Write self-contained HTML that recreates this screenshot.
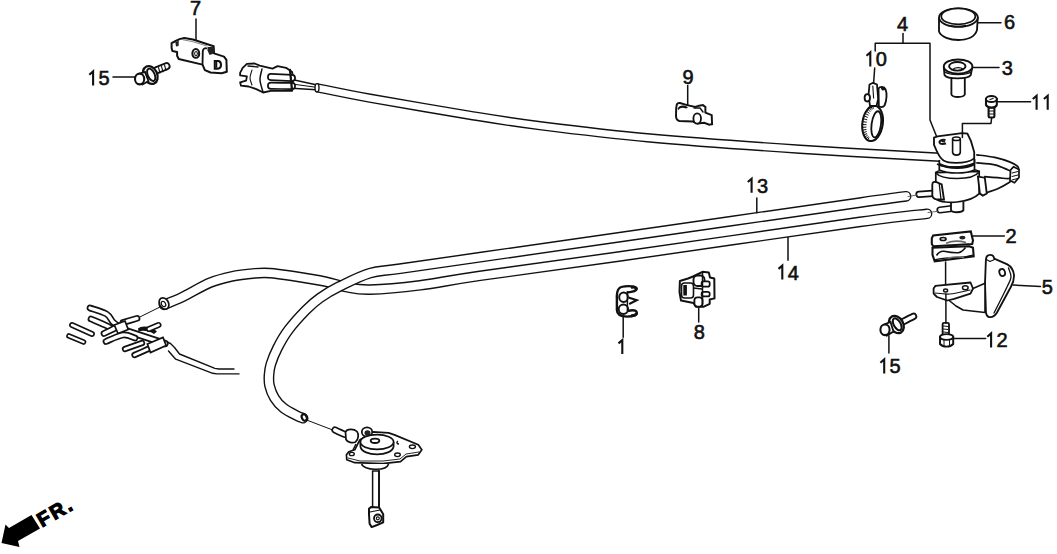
<!DOCTYPE html>
<html><head><meta charset="utf-8"><style>
html,body{margin:0;padding:0;background:#fff;}
svg{display:block;}
text{font-family:"Liberation Sans",sans-serif;fill:#111;}
</style></head><body>
<svg width="1057" height="554" viewBox="0 0 1057 554">
<path d="M316.0,87.5 C325.0,89.3 344.3,93.6 370.0,98.2 C395.7,102.8 441.7,110.7 470.0,115.3 C498.3,119.9 510.0,121.9 540.0,125.7 C570.0,129.5 606.7,134.1 650.0,138.0 C693.3,141.9 751.7,146.0 800.0,149.2 C848.3,152.4 916.7,156.0 940.0,157.3" stroke="#111" stroke-width="9.4" fill="none" stroke-linecap="butt" stroke-linejoin="round"/>
<path d="M316.0,87.5 C325.0,89.3 344.3,93.6 370.0,98.2 C395.7,102.8 441.7,110.7 470.0,115.3 C498.3,119.9 510.0,121.9 540.0,125.7 C570.0,129.5 606.7,134.1 650.0,138.0 C693.3,141.9 751.7,146.0 800.0,149.2 C848.3,152.4 916.7,156.0 940.0,157.3" stroke="#fff" stroke-width="6.6" fill="none" stroke-linecap="butt" stroke-linejoin="round"/>
<path d="M927.0,213.8 C915.8,215.2 911.2,214.8 860.0,221.9 C808.8,229.0 683.3,247.4 620.0,256.4 C556.7,265.4 513.3,271.0 480.0,275.8 C446.7,280.6 438.3,283.0 420.0,285.3 C401.7,287.6 382.3,289.3 370.0,289.6 C357.7,289.9 353.5,288.4 346.0,287.0 C338.5,285.6 334.0,283.4 325.0,281.5 C316.0,279.6 301.2,277.3 292.0,275.9 C282.8,274.5 276.2,273.5 270.0,273.1 C263.8,272.7 261.4,272.8 255.0,273.3 C248.6,273.9 239.2,274.8 231.7,276.4 C224.2,278.0 218.2,279.3 210.0,282.7 C201.8,286.1 190.2,293.3 182.5,297.0 C174.8,300.7 167.1,303.5 164.0,304.8" stroke="#111" stroke-width="10.7" fill="none" stroke-linecap="round" stroke-linejoin="round"/>
<path d="M927.0,213.8 C915.8,215.2 911.2,214.8 860.0,221.9 C808.8,229.0 683.3,247.4 620.0,256.4 C556.7,265.4 513.3,271.0 480.0,275.8 C446.7,280.6 438.3,283.0 420.0,285.3 C401.7,287.6 382.3,289.3 370.0,289.6 C357.7,289.9 353.5,288.4 346.0,287.0 C338.5,285.6 334.0,283.4 325.0,281.5 C316.0,279.6 301.2,277.3 292.0,275.9 C282.8,274.5 276.2,273.5 270.0,273.1 C263.8,272.7 261.4,272.8 255.0,273.3 C248.6,273.9 239.2,274.8 231.7,276.4 C224.2,278.0 218.2,279.3 210.0,282.7 C201.8,286.1 190.2,293.3 182.5,297.0 C174.8,300.7 167.1,303.5 164.0,304.8" stroke="#fff" stroke-width="7.9" fill="none" stroke-linecap="round" stroke-linejoin="round"/>
<path d="M906.0,196.3 C898.3,197.4 907.7,195.8 860.0,202.6 C812.3,209.4 683.3,228.0 620.0,237.1 C556.7,246.2 516.7,251.9 480.0,257.2 C443.3,262.5 418.3,266.0 400.0,268.7 C381.7,271.4 380.0,270.2 370.0,273.1 C360.0,276.0 348.3,282.1 340.0,286.2 C331.7,290.3 325.7,293.9 320.0,297.9 C314.3,301.9 311.3,304.6 306.0,310.0 C300.7,315.4 293.1,323.7 288.4,330.0 C283.6,336.3 280.4,342.3 277.5,348.0 C274.6,353.7 272.2,359.8 270.8,364.3 C269.4,368.8 269.2,371.5 269.0,375.0 C268.8,378.5 268.6,381.7 269.5,385.5 C270.4,389.3 272.2,394.2 274.5,398.0 C276.8,401.8 279.8,405.1 283.5,408.0 C287.2,410.9 293.2,413.8 296.5,415.5 C299.8,417.2 301.9,417.8 303.0,418.2" stroke="#111" stroke-width="10.8" fill="none" stroke-linecap="round" stroke-linejoin="round"/>
<path d="M906.0,196.3 C898.3,197.4 907.7,195.8 860.0,202.6 C812.3,209.4 683.3,228.0 620.0,237.1 C556.7,246.2 516.7,251.9 480.0,257.2 C443.3,262.5 418.3,266.0 400.0,268.7 C381.7,271.4 380.0,270.2 370.0,273.1 C360.0,276.0 348.3,282.1 340.0,286.2 C331.7,290.3 325.7,293.9 320.0,297.9 C314.3,301.9 311.3,304.6 306.0,310.0 C300.7,315.4 293.1,323.7 288.4,330.0 C283.6,336.3 280.4,342.3 277.5,348.0 C274.6,353.7 272.2,359.8 270.8,364.3 C269.4,368.8 269.2,371.5 269.0,375.0 C268.8,378.5 268.6,381.7 269.5,385.5 C270.4,389.3 272.2,394.2 274.5,398.0 C276.8,401.8 279.8,405.1 283.5,408.0 C287.2,410.9 293.2,413.8 296.5,415.5 C299.8,417.2 301.9,417.8 303.0,418.2" stroke="#fff" stroke-width="8.0" fill="none" stroke-linecap="round" stroke-linejoin="round"/>
<path d="M156.5,70.3 C158.2,69.6 164.8,66.9 166.5,66.2" stroke="#111" stroke-width="8.0" fill="none" stroke-linecap="round" stroke-linejoin="round"/>
<path d="M156.5,70.3 C158.2,69.6 164.8,66.9 166.5,66.2" stroke="#fff" stroke-width="4.4" fill="none" stroke-linecap="round" stroke-linejoin="round"/>
<path d="M158.5,67.5 L160.0,73.0" stroke="#111" stroke-width="1.1" fill="none" stroke-linecap="round" stroke-linejoin="round"/>
<path d="M161.5,66.3 L163.0,71.8" stroke="#111" stroke-width="1.1" fill="none" stroke-linecap="round" stroke-linejoin="round"/>
<path d="M164.5,65.0 L166.0,70.5" stroke="#111" stroke-width="1.1" fill="none" stroke-linecap="round" stroke-linejoin="round"/>
<ellipse cx="150.3" cy="75" rx="6.9" ry="9.3" transform="rotate(-25 150.3 75)" fill="#fff" stroke="#111" stroke-width="2.30"/>
<ellipse cx="151.2" cy="74.8" rx="3.4" ry="6.6" transform="rotate(-25 151.2 74.8)" fill="none" stroke="#111" stroke-width="1.95"/>
<path d="M139,73.8 L145,71.8 L148.5,81 L142.5,84.5Z" fill="#fff" stroke="#111" stroke-width="1.84"/>
<ellipse cx="139.6" cy="79" rx="4.6" ry="5.4" fill="#fff" stroke="#111" stroke-width="2.07"/>
<path d="M171.6,43.1 L174.7,41.5 L179.5,39.1 L184.3,38.0 L193.0,39.5 L213.7,46.3 L214.0,53.4 L224.0,56.6 L226.4,59.8 L226.8,71.7 L221.6,73.3 L210.5,72.5 L204.9,70.1 L202.5,64.6 L178.7,59.0 L177.1,55.8 L177.1,51.9 L172.4,51.1 L171.6,47.9Z" stroke="#111" stroke-width="2.0" fill="#fff" stroke-linejoin="round"/>
<path d="M202.5,64.6 L202.8,51 C203.2,48.5 205,47.8 207,48.5" fill="none" stroke="#111" stroke-width="1.84"/>
<path d="M207.5,47 L213.7,46.8 L214,53.4 L209.5,55 L207.5,50.5Z" fill="#222"/>
<path d="M175.3,42.2 L178.8,40.8 L178.6,46 L176,46.5Z" fill="#222"/>
<ellipse cx="195.8" cy="53.4" rx="3.4" ry="4.4" fill="none" stroke="#111" stroke-width="2.07"/>
<ellipse cx="196" cy="53.6" rx="1.4" ry="2.1" fill="none" stroke="#111" stroke-width="1.03"/>
<path d="M214.8,61 L218.5,61 C220.5,61.5 221,63 221,64.8 C221,67 220.5,68.3 218.5,68.6 L214.8,68.6 Z" fill="none" stroke="#111" stroke-width="2.07"/>
<path d="M216.5,62.5 L216.5,67.0" stroke="#111" stroke-width="1.5" fill="none" stroke-linecap="round" stroke-linejoin="round"/>
<path d="M183.0,39.8 L192.0,41.5 L207.0,46.0" stroke="#777" stroke-width="0.9" fill="none" stroke-linecap="round" stroke-linejoin="round"/>
<path d="M292.0,79.5 L316.0,84.8" stroke="#111" stroke-width="1.4" fill="none" stroke-linecap="round" stroke-linejoin="round"/>
<path d="M292.0,84.0 L316.0,87.3" stroke="#111" stroke-width="1.1" fill="none" stroke-linecap="round" stroke-linejoin="round"/>
<path d="M292.0,88.2 L316.0,89.8" stroke="#111" stroke-width="1.4" fill="none" stroke-linecap="round" stroke-linejoin="round"/>
<path d="M240.1,72.9 L242.7,67.8 L246.9,63.9 L254.6,63.5 L259.7,65.6 L272.5,68.6 L277.6,66.1 L286.1,67.8 L292.1,72.0 L292.9,76.3 L292.9,83.1 L292.1,90.8 L270.8,90.8 L263.1,92.5 L256.3,89.1 L248.6,86.5 L241.0,85.7 L240.1,82.3 L246.1,80.6 L246.9,76.3 L240.1,75.4Z" stroke="#111" stroke-width="1.8" fill="#fff" stroke-linejoin="round"/>
<path d="M262.0,69.0 C261.7,70.8 259.8,76.2 260.0,80.0 C260.2,83.8 262.5,90.0 263.0,92.0" stroke="#111" stroke-width="1.5" fill="none" stroke-linecap="round" stroke-linejoin="round"/>
<path d="M252.0,70.0 C251.7,71.3 250.0,75.5 250.0,78.0 C250.0,80.5 251.7,83.8 252.0,85.0" stroke="#111" stroke-width="1.1" fill="none" stroke-linecap="round" stroke-linejoin="round"/>
<path d="M271.0,77.0 C274.5,77.2 288.5,77.8 292.0,78.0" stroke="#111" stroke-width="7.9" fill="none" stroke-linecap="round" stroke-linejoin="round"/>
<path d="M271.0,77.0 C274.5,77.2 288.5,77.8 292.0,78.0" stroke="#fff" stroke-width="4.5" fill="none" stroke-linecap="round" stroke-linejoin="round"/>
<path d="M271.0,85.8 C274.5,85.8 288.5,86.0 292.0,86.0" stroke="#111" stroke-width="7.9" fill="none" stroke-linecap="round" stroke-linejoin="round"/>
<path d="M271.0,85.8 C274.5,85.8 288.5,86.0 292.0,86.0" stroke="#fff" stroke-width="4.5" fill="none" stroke-linecap="round" stroke-linejoin="round"/>
<path d="M290.0,70.0 L292.0,90.0" stroke="#111" stroke-width="2.3" fill="none" stroke-linecap="round" stroke-linejoin="round"/>
<path d="M248.0,66.0 L258.0,67.0" stroke="#111" stroke-width="1.4" fill="none" stroke-linecap="round" stroke-linejoin="round"/>
<ellipse cx="317" cy="87.8" rx="2" ry="4.2" fill="#fff" stroke="#111" stroke-width="1.38"/>
<path d="M676.8,104.5 C677.5,103 679,102.8 680,103 L687.1,105.1 L695.3,107 L699.1,105.7 L702.9,105.1 L705.4,107 L705.4,112.7 L711.7,115.2 L712.1,124.1 L709.2,124.7 L704.2,122.8 L697.8,123.4 L692.8,121.5 L679.5,121 C677,120.5 676,118.5 676,116 L676.2,108 Z" fill="#fff" stroke="#111" stroke-width="1.95"/>
<path d="M677.5,109 C679,105 684,104.5 688,107.5 L686,108.5 C683,107 680,107.5 678.5,110Z" fill="#111"/>
<ellipse cx="697.2" cy="118.5" rx="3.8" ry="5.1" fill="#fff" stroke="#111" stroke-width="1.84"/>
<path d="M694.0,108.0 L700.0,108.0 L703.0,112.0" stroke="#111" stroke-width="1.4" fill="none" stroke-linecap="round" stroke-linejoin="round"/>
<ellipse cx="872.6" cy="123.3" rx="10.2" ry="17.8" transform="rotate(8 872.6 123.3)" fill="#fff" stroke="#111" stroke-width="2.07"/>
<path d="M867.6,140.0 L868.9,137.7" stroke="#111" stroke-width="1.0" fill="none" stroke-linecap="round" stroke-linejoin="round"/>
<path d="M866.2,138.8 L868.1,136.7" stroke="#111" stroke-width="1.0" fill="none" stroke-linecap="round" stroke-linejoin="round"/>
<path d="M864.9,137.1 L867.3,135.4" stroke="#111" stroke-width="1.0" fill="none" stroke-linecap="round" stroke-linejoin="round"/>
<path d="M863.9,135.1 L866.7,133.7" stroke="#111" stroke-width="1.0" fill="none" stroke-linecap="round" stroke-linejoin="round"/>
<path d="M863.0,132.8 L866.3,131.7" stroke="#111" stroke-width="1.0" fill="none" stroke-linecap="round" stroke-linejoin="round"/>
<path d="M862.5,130.2 L866.1,129.5" stroke="#111" stroke-width="1.0" fill="none" stroke-linecap="round" stroke-linejoin="round"/>
<path d="M862.2,127.4 L866.0,127.1" stroke="#111" stroke-width="1.0" fill="none" stroke-linecap="round" stroke-linejoin="round"/>
<path d="M862.2,124.5 L866.1,124.7" stroke="#111" stroke-width="1.0" fill="none" stroke-linecap="round" stroke-linejoin="round"/>
<path d="M862.5,121.6 L866.4,122.2" stroke="#111" stroke-width="1.0" fill="none" stroke-linecap="round" stroke-linejoin="round"/>
<path d="M863.1,118.7 L866.8,119.7" stroke="#111" stroke-width="1.0" fill="none" stroke-linecap="round" stroke-linejoin="round"/>
<path d="M864.0,115.9 L867.4,117.3" stroke="#111" stroke-width="1.0" fill="none" stroke-linecap="round" stroke-linejoin="round"/>
<path d="M865.0,113.4 L868.2,115.1" stroke="#111" stroke-width="1.0" fill="none" stroke-linecap="round" stroke-linejoin="round"/>
<path d="M866.3,111.1 L869.1,113.1" stroke="#111" stroke-width="1.0" fill="none" stroke-linecap="round" stroke-linejoin="round"/>
<path d="M867.8,109.2 L870.0,111.4" stroke="#111" stroke-width="1.0" fill="none" stroke-linecap="round" stroke-linejoin="round"/>
<path d="M869.3,107.6 L871.1,110.0" stroke="#111" stroke-width="1.0" fill="none" stroke-linecap="round" stroke-linejoin="round"/>
<path d="M871.0,106.5 L872.2,109.0" stroke="#111" stroke-width="1.0" fill="none" stroke-linecap="round" stroke-linejoin="round"/>
<path d="M872.7,105.8 L873.3,108.3" stroke="#111" stroke-width="1.0" fill="none" stroke-linecap="round" stroke-linejoin="round"/>
<ellipse cx="876.3" cy="124.3" rx="4.7" ry="13.2" transform="rotate(8 876.3 124.3)" fill="#fff" stroke="#111" stroke-width="1.84"/>
<path d="M869.5,84.5 L873.0,82.8 L877.0,84.5 L878.2,99.0 L876.5,106.0 L870.0,106.0 L868.5,95.0Z" stroke="#111" stroke-width="1.8" fill="#fff" stroke-linejoin="round"/>
<ellipse cx="867.3" cy="97.8" rx="2.7" ry="3.7" fill="#fff" stroke="#111" stroke-width="1.84"/>
<path d="M878.5,88.5 C880,86.5 884,86 885.6,89.5 C887,93 887,100 884.5,105.5 C883,107.5 880,107.5 878.8,106 Z" fill="#fff" stroke="#111" stroke-width="1.84"/>
<path d="M880.5,87.5 C882.5,86.3 885,87.5 885.5,90 L882,90.5Z" fill="#111"/>
<path d="M872.8,86.0 L873.6,98.0" stroke="#111" stroke-width="1.1" fill="none" stroke-linecap="round" stroke-linejoin="round"/>
<path d="M939,18 L939,31.5 C941,37 950,40 958.4,40 C967,40 975,37 977,30 L977.8,17" fill="#fff" stroke="#111" stroke-width="1.84"/>
<ellipse cx="958.4" cy="17.6" rx="19.4" ry="9.3" fill="#fff" stroke="#111" stroke-width="1.84"/>
<ellipse cx="958.3" cy="16.4" rx="17" ry="8" fill="#fff" stroke="#111" stroke-width="1.72"/>
<path d="M948,25.5 C954,26.5 962,26.5 966,25.5" fill="none" stroke="#111" stroke-width="1.49"/>
<path d="M951.4,77 L951.4,94.5 C952.5,97.8 963.5,97.8 964.8,94.5 L964.8,77" fill="#fff" stroke="#111" stroke-width="1.84"/>
<path d="M943.8,67 L944.5,75 C947,79.5 968,79.5 970.8,75 L972.4,66.5" fill="#fff" stroke="#111" stroke-width="1.84"/>
<ellipse cx="958.1" cy="66.5" rx="14.3" ry="7.1" fill="#fff" stroke="#111" stroke-width="1.95"/>
<ellipse cx="957.3" cy="66.3" rx="8.2" ry="4.3" fill="#fff" stroke="#111" stroke-width="1.95"/>
<path d="M953.5,69 C955,67.2 961,67.2 962.8,69" fill="none" stroke="#111" stroke-width="1.26"/>
<path d="M945,72 C950,75.5 966,75.5 971,72" fill="none" stroke="#111" stroke-width="1.26"/>
<rect x="988.6" y="105" width="5.8" height="12.5" rx="1.5" fill="#fff" stroke="#111" stroke-width="2.07"/>
<path d="M989.5,108.0 L993.5,108.0" stroke="#111" stroke-width="1.0" fill="none" stroke-linecap="round" stroke-linejoin="round"/>
<path d="M989.5,111.0 L993.5,111.0" stroke="#111" stroke-width="1.0" fill="none" stroke-linecap="round" stroke-linejoin="round"/>
<path d="M989.5,114.0 L993.5,114.0" stroke="#111" stroke-width="1.0" fill="none" stroke-linecap="round" stroke-linejoin="round"/>
<path d="M986,99 L986,105 C988,108.5 995,108.5 996.8,105 L996.8,99Z" fill="#fff" stroke="#111" stroke-width="2.07"/>
<ellipse cx="991.4" cy="99" rx="5.4" ry="3" fill="#fff" stroke="#111" stroke-width="1.84"/>
<path d="M990.0,99.5 L993.0,98.5" stroke="#111" stroke-width="1.3" fill="none" stroke-linecap="round" stroke-linejoin="round"/>
<path d="M976.9,154.9 C990,156 1003,159 1009.6,161.9 C1014,163.8 1017.6,166.3 1018.6,169.8 L1016.6,176.7 C1013,180 1010,182 1008.7,182.7 C1003,186 997,189 986.8,192.6 L984.8,176.7 C992,177.3 1000,178 1007.7,178.7 L1011.6,171.8 C1008,169.5 1002,166.5 994.8,164.8 C990,163.5 983,163 976.9,162.9 Z" fill="#fff" stroke="none"/>
<path d="M976.9,154.9 C979.9,155.3 989.3,156.2 994.8,157.4 C1000.2,158.6 1005.8,160.4 1009.6,161.9 C1013.4,163.4 1016.1,165.0 1017.6,166.3 C1019.1,167.6 1018.4,169.2 1018.6,169.8" stroke="#111" stroke-width="1.7" fill="none" stroke-linecap="round" stroke-linejoin="round"/>
<path d="M976.9,162.9 C979.9,163.2 989.7,163.7 994.8,164.8 C999.9,166.0 1004.9,168.6 1007.7,169.8 C1010.5,171.0 1011.0,171.5 1011.6,171.8" stroke="#111" stroke-width="1.7" fill="none" stroke-linecap="round" stroke-linejoin="round"/>
<path d="M984.8,176.7 C986.9,176.9 993.9,177.4 997.7,177.7 C1001.5,178.0 1005.6,178.7 1007.7,178.7 C1009.9,178.7 1010.1,177.9 1010.6,177.7" stroke="#111" stroke-width="1.7" fill="none" stroke-linecap="round" stroke-linejoin="round"/>
<path d="M986.8,192.6 C988.6,191.9 994.1,190.3 997.7,188.7 C1001.4,187.0 1005.6,184.7 1008.7,182.7 C1011.9,180.7 1015.3,177.7 1016.6,176.7" stroke="#111" stroke-width="1.7" fill="none" stroke-linecap="round" stroke-linejoin="round"/>
<path d="M1010.5,170 L1013.5,166.8 L1019,169.5 L1019,177.5 L1014.5,182.7 L1010,180.5Z" fill="#fff" stroke="#111" stroke-width="1.72"/>
<path d="M1012.0,173.0 L1018.0,171.5" stroke="#111" stroke-width="1.0" fill="none" stroke-linecap="round" stroke-linejoin="round"/>
<path d="M1012.0,176.5 L1018.0,175.0" stroke="#111" stroke-width="1.0" fill="none" stroke-linecap="round" stroke-linejoin="round"/>
<path d="M1012.0,180.0 L1017.5,178.5" stroke="#111" stroke-width="1.0" fill="none" stroke-linecap="round" stroke-linejoin="round"/>
<path d="M919.0,194.3 C921.3,194.1 930.7,193.5 933.0,193.3" stroke="#111" stroke-width="7.2" fill="none" stroke-linecap="round" stroke-linejoin="round"/>
<path d="M919.0,194.3 C921.3,194.1 930.7,193.5 933.0,193.3" stroke="#fff" stroke-width="3.8" fill="none" stroke-linecap="round" stroke-linejoin="round"/>
<path d="M940.0,210.0 C942.0,209.8 950.0,208.8 952.0,208.5" stroke="#111" stroke-width="7.2" fill="none" stroke-linecap="round" stroke-linejoin="round"/>
<path d="M940.0,210.0 C942.0,209.8 950.0,208.8 952.0,208.5" stroke="#fff" stroke-width="3.8" fill="none" stroke-linecap="round" stroke-linejoin="round"/>
<path d="M908.0,196.5 L917.0,195.0" stroke="#555" stroke-width="0.9" fill="none" stroke-linecap="round" stroke-linejoin="round"/>
<path d="M928.0,212.5 L938.0,211.3" stroke="#555" stroke-width="0.9" fill="none" stroke-linecap="round" stroke-linejoin="round"/>
<path d="M951,203 L951,210 C952,213 962,213 963.4,210 L963.4,202" fill="#fff" stroke="#111" stroke-width="1.84"/>
<path d="M935.8,172.6 L935.8,199 C940,202 950,203 957,202 C968,201 976,197 979.2,193.7 L979.2,171.4 Z" fill="#fff" stroke="#111" stroke-width="1.72"/>
<path d="M935.8,172.6 C940,168 972,167 979.2,171.4" fill="none" stroke="#111" stroke-width="1.49"/>
<path d="M935.8,173 C942,180 972,181 979.2,172" fill="none" stroke="#111" stroke-width="1.49"/>
<path d="M932.3,184.5 C932.5,182 934,181.6 936,182 L941.7,184.5 L944,199.6 L935.5,199.2 C933.5,198.5 932.5,197.5 932.3,195.5 Z" fill="#fff" stroke="#111" stroke-width="1.84"/>
<path d="M939.3,184.5 L941.0,199.3" stroke="#111" stroke-width="1.3" fill="none" stroke-linecap="round" stroke-linejoin="round"/>
<path d="M977.9,176.7 L984.8,177.7 L986.8,193.6 L982.9,195.6 L979.9,193.6Z" fill="#fff" stroke="#111" stroke-width="1.84"/>
<path d="M939.3,160 L939.3,170 C948,174 966,174 974.5,170 L974.5,159" fill="#fff" stroke="#111" stroke-width="1.72"/>
<path d="M939.3,164 C948,169 966,169 974.5,164" fill="none" stroke="#111" stroke-width="2.53"/>
<path d="M937,164 C945,168 962,168.5 974.6,163 L974.2,158.4" fill="none" stroke="#111" stroke-width="1.61"/>
<path d="M934,137.6 L937.6,136.3 L962,133.1 L967.4,133.6 L971,141.2 L974.2,152.1 L974.2,158.4 C971,161 963,162.9 955.7,162.9 C950,162.9 946,162 943.5,160.5 C940,158 938,154 936.5,150.5 L934,144.9 Z" fill="#fff" stroke="#111" stroke-width="1.84"/>
<path d="M952.6,139 L952.6,152.5 C953.5,156 959.5,156 960.3,152.5 L960.3,139" fill="#fff" stroke="#111" stroke-width="1.61"/>
<ellipse cx="956.4" cy="138.8" rx="3.9" ry="1.8" fill="#fff" stroke="#111" stroke-width="1.49"/>
<path d="M945.5,140 C941.5,139.3 939,141 939.5,142.5 C940,144 943,144.3 946,143.6" fill="none" stroke="#111" stroke-width="2.07"/>
<path d="M941.5,141.3 L945,141.8" stroke="#111" stroke-width="1.49"/>
<path d="M931.8,238.3 L933.2,235.4 L970.8,231.4 L973,240.4 L972.2,244 L933.2,246.2 L931.8,244 Z" fill="#fff" stroke="#111" stroke-width="2.07"/>
<ellipse cx="943.1" cy="239" rx="2.9" ry="1.5" fill="none" stroke="#111" stroke-width="1.72"/>
<ellipse cx="962.4" cy="237.6" rx="3" ry="1.9" fill="#222"/>
<path d="M946,243.2 C952,240.8 960,240.8 966,242.6" fill="none" stroke="#666" stroke-width="1.61"/>
<path d="M932.5,247.7 L969.3,246.2 L973,247.7 L973.7,256.3 L934.7,261.4 L932.5,254.9 Z" fill="#fff" stroke="#111" stroke-width="2.07"/>
<path d="M936.5,255.5 C938.5,252.3 941.5,251 944,251.3 C950,252.5 955,253 958.5,252.7 C962,252.2 964,249.5 965.5,247.5" fill="none" stroke="#111" stroke-width="1.61"/>
<path d="M934.5,259.8 C945,257.3 955,257.3 965,256.8 L973,255.2" fill="none" stroke="#111" stroke-width="1.26"/>
<path d="M948,258 C953,256.8 960,256.8 964,257.5" fill="none" stroke="#777" stroke-width="1.38"/>
<path d="M985.9,260 C986,256.5 988,254.8 990.5,254.8 C992.5,254.8 993.8,256.3 994.2,258.5 L1007.3,264.4 C1011,266.5 1013.5,270 1014,275 C1014.3,280 1012.5,284 1010.8,287 L997,312.5 C995,316 992,317.5 989,317 C986.8,316.5 986,314 985.9,311 L985,283.3 Z" fill="#fff" stroke="#111" stroke-width="1.84"/>
<path d="M1008.5,268.0 C1008.9,269.5 1011.2,273.8 1011.0,277.0 C1010.8,280.2 1009.8,281.0 1007.0,287.0 C1004.2,293.0 996.2,308.7 994.0,313.0" stroke="#111" stroke-width="1.3" fill="none" stroke-linecap="round" stroke-linejoin="round"/>
<path d="M986.5,259.5 L990.0,261.5 L994.5,259.5" stroke="#111" stroke-width="1.1" fill="none" stroke-linecap="round" stroke-linejoin="round"/>
<ellipse cx="1002.2" cy="272.5" rx="2.8" ry="3.6" transform="rotate(-20 1002.2 272.5)" fill="none" stroke="#111" stroke-width="1.72"/>
<path d="M947.3,299.0 L956.0,306.0 L963.0,310.0 L985.0,312.5 L985.0,283.3 L973.0,288.5Z" stroke="#111" stroke-width="1.6" fill="#fff" stroke-linejoin="round"/>
<path d="M933.6,288.5 L935.3,285.9 L970.5,282.5 L973.0,288.5 L970.5,293.6 L954.2,298.8 L947.3,300.5 L937.0,297.0 L933.6,293.6Z" stroke="#111" stroke-width="1.8" fill="#fff" stroke-linejoin="round"/>
<path d="M935.0,293.0 C937.5,293.2 944.2,294.5 950.0,294.0 C955.8,293.5 966.7,290.7 970.0,290.0" stroke="#111" stroke-width="1.1" fill="none" stroke-linecap="round" stroke-linejoin="round"/>
<ellipse cx="945.6" cy="290.5" rx="2" ry="1.5" fill="none" stroke="#111" stroke-width="1.49"/>
<ellipse cx="965.3" cy="287.8" rx="2.8" ry="2" fill="none" stroke="#111" stroke-width="1.49"/>
<rect x="942.6" y="322.8" width="6.4" height="12.5" rx="1.5" fill="#fff" stroke="#111" stroke-width="1.84"/>
<path d="M943.5,326.0 L948.0,326.5" stroke="#111" stroke-width="1.0" fill="none" stroke-linecap="round" stroke-linejoin="round"/>
<path d="M943.5,329.0 L948.0,329.5" stroke="#111" stroke-width="1.0" fill="none" stroke-linecap="round" stroke-linejoin="round"/>
<path d="M943.5,332.0 L948.0,332.5" stroke="#111" stroke-width="1.0" fill="none" stroke-linecap="round" stroke-linejoin="round"/>
<path d="M940,337 L940,344 C943,347.5 950,347.5 953.2,344 L953.2,337Z" fill="#fff" stroke="#111" stroke-width="1.95"/>
<ellipse cx="946.6" cy="337" rx="6.6" ry="2.8" fill="#fff" stroke="#111" stroke-width="1.84"/>
<path d="M944.0,339.5 L944.0,345.5" stroke="#111" stroke-width="1.0" fill="none" stroke-linecap="round" stroke-linejoin="round"/>
<path d="M949.5,339.5 L949.5,345.5" stroke="#111" stroke-width="1.0" fill="none" stroke-linecap="round" stroke-linejoin="round"/>
<path d="M903.5,321.5 C905.2,320.6 911.8,317.2 913.5,316.4" stroke="#111" stroke-width="7.4" fill="none" stroke-linecap="round" stroke-linejoin="round"/>
<path d="M903.5,321.5 C905.2,320.6 911.8,317.2 913.5,316.4" stroke="#fff" stroke-width="3.8" fill="none" stroke-linecap="round" stroke-linejoin="round"/>
<ellipse cx="896.4" cy="324.5" rx="6.8" ry="9.2" transform="rotate(-30 896.4 324.5)" fill="#fff" stroke="#111" stroke-width="2.30"/>
<ellipse cx="897.2" cy="324.3" rx="3.4" ry="6.6" transform="rotate(-30 897.2 324.3)" fill="none" stroke="#111" stroke-width="2.07"/>
<path d="M884.5,324.3 L890.5,322 L893.5,331.5 L887,335.5Z" fill="#fff" stroke="#111" stroke-width="1.84"/>
<ellipse cx="885" cy="329.8" rx="4.6" ry="5.3" fill="#fff" stroke="#111" stroke-width="2.07"/>
<path d="M636.8,288.7 C635,285.3 622,285.3 619,288.5 C616.5,291 616.6,295 616.9,300 L616.9,310 C617,314 620,316.6 627,316.6 C633,316.6 637.2,315 636.8,312.5 C636,309.8 632,309.8 627.4,311" fill="#fff" stroke="#111" stroke-width="2.42"/>
<path d="M636.8,288.7 C636.5,291 631,292.3 626.7,292.5" fill="none" stroke="#111" stroke-width="2.42"/>
<ellipse cx="623.6" cy="297.2" rx="4.4" ry="4.8" fill="#fff" stroke="#111" stroke-width="1.95"/>
<ellipse cx="623.4" cy="309.3" rx="4.7" ry="4.7" fill="#fff" stroke="#111" stroke-width="1.95"/>
<path d="M628.5,297.5 L636.8,300.2 L629.2,304" fill="#fff" stroke="#111" stroke-width="2.07"/>
<path d="M627.4,292.0 L627.4,311.0" stroke="#111" stroke-width="1.5" fill="none" stroke-linecap="round" stroke-linejoin="round"/>
<path d="M631,287.5 C634,286.5 636.5,287.5 636.5,289.5" fill="none" stroke="#111" stroke-width="2.99"/>
<path d="M631,315.8 C634,316 636.5,315 636.5,313" fill="none" stroke="#111" stroke-width="2.99"/>
<path d="M679.9,281.0 L688.0,278.5 L693.0,276.5 L702.5,271.8 L708.8,272.5 L710.0,277.5 L714.3,278.5 L714.5,298.4 L709.7,299.5 L709.7,303.8 L703.4,306.8 L696.2,306.8 L693.5,303.0 L681.0,300.5 L679.5,292.0Z" stroke="#111" stroke-width="2.0" fill="#fff" stroke-linejoin="round"/>
<rect x="681.5" y="283" width="12" height="15" rx="3" fill="none" stroke="#111" stroke-width="1.61"/>
<rect x="683.3" y="285" width="3.6" height="10.5" fill="#111"/>
<rect x="693.5" y="275.5" width="11" height="10.5" rx="4" fill="#fff" stroke="#111" stroke-width="1.84"/>
<rect x="701.6" y="281.3" width="8.1" height="5.4" rx="2" fill="#fff" stroke="#111" stroke-width="1.72"/>
<rect x="701.6" y="291.8" width="8.1" height="4.6" rx="2" fill="#fff" stroke="#111" stroke-width="1.72"/>
<rect x="694.4" y="297.3" width="8.1" height="9.3" rx="3" fill="#fff" stroke="#111" stroke-width="1.84"/>
<path d="M702.5,272.0 L702.5,304.0" stroke="#111" stroke-width="1.5" fill="none" stroke-linecap="round" stroke-linejoin="round"/>
<path d="M693.5,288.0 L702.0,289.0" stroke="#111" stroke-width="1.4" fill="none" stroke-linecap="round" stroke-linejoin="round"/>
<path d="M304.0,419.0 L334.0,430.5" stroke="#111" stroke-width="1.0" fill="none" stroke-linecap="round" stroke-linejoin="round"/>
<ellipse cx="304.3" cy="417.5" rx="2.4" ry="3.4" transform="rotate(-25 304.3 417.5)" fill="#fff" stroke="#111" stroke-width="2.18"/>
<path d="M335.0,430.0 C336.7,430.8 343.3,433.8 345.0,434.5" stroke="#111" stroke-width="7.1" fill="none" stroke-linecap="round" stroke-linejoin="round"/>
<path d="M335.0,430.0 C336.7,430.8 343.3,433.8 345.0,434.5" stroke="#fff" stroke-width="3.9" fill="none" stroke-linecap="round" stroke-linejoin="round"/>
<path d="M345.5,432 C347,428.5 354,428.5 357,431.5 C359,434 358.5,440 355.5,442 C352.5,443.5 347.5,442.5 346,439.5 Z" fill="#fff" stroke="#111" stroke-width="1.72"/>
<path d="M346.4,454.8 L348.8,451.8 L354.8,449.8 L359.8,439.9 L372.7,431.9 L388.6,432.9 L394.5,434.9 L418.3,444.8 L421.8,449.8 L418.3,454.8 L406.4,456.7 L400.5,461.7 L382.6,463.7 L354.8,462.7 L346.8,459.7Z" stroke="#111" stroke-width="1.7" fill="#fff" stroke-linejoin="round"/>
<path d="M348.0,458.0 L360.0,461.0 L383.0,461.0 L400.0,459.0 L406.0,454.0 L419.0,452.0" stroke="#111" stroke-width="0.9" fill="none" stroke-linecap="round" stroke-linejoin="round"/>
<ellipse cx="367" cy="432" rx="5.2" ry="4.6" fill="#fff" stroke="#111" stroke-width="1.72"/>
<ellipse cx="367.5" cy="433" rx="3" ry="2.8" fill="#222"/>
<path d="M360.4,442 L360.4,446.5 C362,457 392,457 393.6,446.5 L393.6,442" fill="#fff" stroke="#111" stroke-width="1.72"/>
<ellipse cx="377" cy="442" rx="16.6" ry="7.4" fill="#fff" stroke="#111" stroke-width="1.72"/>
<ellipse cx="375" cy="440.8" rx="4.3" ry="2.2" fill="none" stroke="#111" stroke-width="1.84"/>
<ellipse cx="412.4" cy="446.8" rx="3" ry="1.8" fill="none" stroke="#111" stroke-width="1.38"/>
<ellipse cx="397.5" cy="454.8" rx="2.8" ry="1.8" fill="none" stroke="#111" stroke-width="1.38"/>
<ellipse cx="351.8" cy="454" rx="2.5" ry="1.6" fill="none" stroke="#111" stroke-width="1.38"/>
<path d="M398,441 C396,442 397,444 399,444" fill="none" stroke="#111" stroke-width="1.38"/>
<path d="M356,444 L353,450" stroke="#111" stroke-width="1.49"/>
<path d="M361.7,464 C363,470 386,472 388.6,464" fill="#fff" stroke="#111" stroke-width="1.61"/>
<rect x="372.6" y="471" width="6.4" height="38" fill="#fff" stroke="#111" stroke-width="1.49"/>
<path d="M379.0,471.0 L379.0,508.0" stroke="#111" stroke-width="1.8" fill="none" stroke-linecap="round" stroke-linejoin="round"/>
<path d="M369.0,508.8 L371.0,507.0 L379.1,507.4 L383.2,514.2 L383.2,522.3 L377.1,525.0 L371.7,527.1 L369.6,523.7 L369.0,514.2Z" stroke="#111" stroke-width="2.0" fill="#fff" stroke-linejoin="round"/>
<circle cx="377.8" cy="518.3" r="3.8" fill="none" stroke="#111" stroke-width="1.84"/>
<circle cx="377.8" cy="518.3" r="1.5" fill="none" stroke="#111" stroke-width="1.15"/>
<path d="M370.0,512.0 L380.0,510.0" stroke="#111" stroke-width="1.1" fill="none" stroke-linecap="round" stroke-linejoin="round"/>
<path d="M160.0,307.0 L137.0,318.4" stroke="#111" stroke-width="1.0" fill="none" stroke-linecap="round" stroke-linejoin="round"/>
<path d="M165.0,341.2 L170.5,343.5 L174.5,347.5 L179.5,354.0 L214.9,368.4 L219.0,369.0 L234.0,369.0" stroke="#111" stroke-width="1.4" fill="none" stroke-linecap="round" stroke-linejoin="round"/>
<path d="M168.5,351.0 L171.5,354.5 L175.7,359.2 L212.7,373.3 L217.0,373.9 L239.0,373.9" stroke="#111" stroke-width="1.4" fill="none" stroke-linecap="round" stroke-linejoin="round"/>
<path d="M127.0,331.0 C133.3,333.1 158.7,341.4 165.0,343.5" stroke="#111" stroke-width="7.3" fill="none" stroke-linecap="round" stroke-linejoin="round"/>
<path d="M127.0,331.0 C133.3,333.1 158.7,341.4 165.0,343.5" stroke="#fff" stroke-width="3.9" fill="none" stroke-linecap="round" stroke-linejoin="round"/>
<path d="M72.0,325.0 C75.3,326.5 88.7,332.5 92.0,334.0" stroke="#111" stroke-width="5.8" fill="none" stroke-linecap="round" stroke-linejoin="round"/>
<path d="M72.0,325.0 C75.3,326.5 88.7,332.5 92.0,334.0" stroke="#fff" stroke-width="2.6" fill="none" stroke-linecap="round" stroke-linejoin="round"/>
<path d="M69.0,336.0 C71.4,337.0 81.1,341.0 83.5,342.0" stroke="#111" stroke-width="5.6" fill="none" stroke-linecap="round" stroke-linejoin="round"/>
<path d="M69.0,336.0 C71.4,337.0 81.1,341.0 83.5,342.0" stroke="#fff" stroke-width="2.4" fill="none" stroke-linecap="round" stroke-linejoin="round"/>
<path d="M90.0,308.0 C92.8,309.0 102.7,311.7 106.5,314.0 C110.3,316.3 110.8,319.8 113.0,322.0 C115.2,324.2 118.8,326.2 120.0,327.0" stroke="#111" stroke-width="6.7" fill="none" stroke-linecap="round" stroke-linejoin="round"/>
<path d="M90.0,308.0 C92.8,309.0 102.7,311.7 106.5,314.0 C110.3,316.3 110.8,319.8 113.0,322.0 C115.2,324.2 118.8,326.2 120.0,327.0" stroke="#fff" stroke-width="3.3" fill="none" stroke-linecap="round" stroke-linejoin="round"/>
<path d="M91.0,319.0 C93.3,320.0 101.5,323.4 105.0,325.0 C108.5,326.6 110.8,327.9 112.0,328.5" stroke="#111" stroke-width="6.7" fill="none" stroke-linecap="round" stroke-linejoin="round"/>
<path d="M91.0,319.0 C93.3,320.0 101.5,323.4 105.0,325.0 C108.5,326.6 110.8,327.9 112.0,328.5" stroke="#fff" stroke-width="3.3" fill="none" stroke-linecap="round" stroke-linejoin="round"/>
<path d="M106.0,341.5 C108.8,340.4 118.2,335.6 123.0,335.0 C127.8,334.4 133.0,337.5 135.0,338.0" stroke="#111" stroke-width="6.7" fill="none" stroke-linecap="round" stroke-linejoin="round"/>
<path d="M106.0,341.5 C108.8,340.4 118.2,335.6 123.0,335.0 C127.8,334.4 133.0,337.5 135.0,338.0" stroke="#fff" stroke-width="3.3" fill="none" stroke-linecap="round" stroke-linejoin="round"/>
<path d="M125.0,349.0 C127.8,348.0 139.2,344.0 142.0,343.0" stroke="#111" stroke-width="6.3" fill="none" stroke-linecap="round" stroke-linejoin="round"/>
<path d="M125.0,349.0 C127.8,348.0 139.2,344.0 142.0,343.0" stroke="#fff" stroke-width="2.9" fill="none" stroke-linecap="round" stroke-linejoin="round"/>
<path d="M134.5,355.0 C136.8,354.0 145.8,350.0 148.0,349.0" stroke="#111" stroke-width="6.3" fill="none" stroke-linecap="round" stroke-linejoin="round"/>
<path d="M134.5,355.0 C136.8,354.0 145.8,350.0 148.0,349.0" stroke="#fff" stroke-width="2.9" fill="none" stroke-linecap="round" stroke-linejoin="round"/>
<path d="M138,328.5 C141,325.5 151,325.5 157,331.5 L154,334 C149,331 143,330 138.5,331.5Z" fill="#111"/>
<path d="M149.0,329.0 C150.6,328.3 156.9,325.7 158.5,325.0" stroke="#111" stroke-width="6.0" fill="none" stroke-linecap="round" stroke-linejoin="round"/>
<path d="M149.0,329.0 C150.6,328.3 156.9,325.7 158.5,325.0" stroke="#fff" stroke-width="2.8" fill="none" stroke-linecap="round" stroke-linejoin="round"/>
<path d="M104.0,333.5 C105.9,332.6 113.7,328.8 115.6,327.8" stroke="#111" stroke-width="6.7" fill="none" stroke-linecap="round" stroke-linejoin="round"/>
<path d="M104.0,333.5 C105.9,332.6 113.7,328.8 115.6,327.8" stroke="#fff" stroke-width="3.3" fill="none" stroke-linecap="round" stroke-linejoin="round"/>
<path d="M123.0,322.5 C125.3,321.8 134.7,319.1 137.0,318.4" stroke="#111" stroke-width="6.7" fill="none" stroke-linecap="round" stroke-linejoin="round"/>
<path d="M123.0,322.5 C125.3,321.8 134.7,319.1 137.0,318.4" stroke="#fff" stroke-width="3.3" fill="none" stroke-linecap="round" stroke-linejoin="round"/>
<path d="M114.3,325 L125,321 L128.2,329.5 L118,333.5Z" fill="#fff" stroke="#111" stroke-width="1.72"/>
<path d="M147.4,344 L163,337.5 L166.1,345.5 L150.5,352.6Z" fill="#fff" stroke="#111" stroke-width="1.72"/>
<ellipse cx="164" cy="303.5" rx="4.5" ry="6" transform="rotate(-30 164 303.5)" fill="#fff" stroke="#111" stroke-width="1.72"/>
<ellipse cx="163.5" cy="304" rx="2" ry="2.8" transform="rotate(-30 163.5 304)" fill="none" stroke="#111" stroke-width="1.26"/>
<path d="M1.5,543 L5.5,524.5 L9,528 L31.5,515 L40,528.5 L18,541 L19.5,547 Z" fill="#000"/>
<text x="42" y="527.5" font-size="20" font-weight="bold" transform="rotate(-30 42 527.5)" style="fill:#000;stroke:#000;stroke-width:1.2px;letter-spacing:2.2px">FR.</text>
<path d="M196.0,19.0 L196.0,40.0" stroke="#111" stroke-width="1.5" fill="none" stroke-linecap="round" stroke-linejoin="round"/>
<path d="M113.0,77.0 L134.5,77.0" stroke="#111" stroke-width="1.5" fill="none" stroke-linecap="round" stroke-linejoin="round"/>
<path d="M687.7,85.5 L687.7,105.0" stroke="#111" stroke-width="1.5" fill="none" stroke-linecap="round" stroke-linejoin="round"/>
<path d="M903.0,33.5 L903.0,43.3" stroke="#111" stroke-width="1.5" fill="none" stroke-linecap="round" stroke-linejoin="round"/>
<path d="M875.2,50.9 L875.2,43.3 L930.0,43.3 L930.0,120.0 L936.4,136.0" stroke="#111" stroke-width="1.5" fill="none" stroke-linecap="round" stroke-linejoin="round"/>
<path d="M874.7,68.0 L873.6,83.3" stroke="#111" stroke-width="1.5" fill="none" stroke-linecap="round" stroke-linejoin="round"/>
<path d="M977.8,22.8 L1001.0,22.8" stroke="#111" stroke-width="1.5" fill="none" stroke-linecap="round" stroke-linejoin="round"/>
<path d="M973.3,67.6 L999.0,67.6" stroke="#111" stroke-width="1.5" fill="none" stroke-linecap="round" stroke-linejoin="round"/>
<path d="M997.0,101.8 L1030.6,101.8" stroke="#111" stroke-width="1.5" fill="none" stroke-linecap="round" stroke-linejoin="round"/>
<path d="M991.6,118.0 L991.0,123.4 L962.4,123.4 L962.4,137.5" stroke="#111" stroke-width="1.5" fill="none" stroke-linecap="round" stroke-linejoin="round"/>
<path d="M756.8,198.0 L756.8,212.7" stroke="#111" stroke-width="1.5" fill="none" stroke-linecap="round" stroke-linejoin="round"/>
<path d="M788.0,237.5 L788.0,260.2" stroke="#111" stroke-width="1.5" fill="none" stroke-linecap="round" stroke-linejoin="round"/>
<path d="M973.0,236.0 L1004.4,236.0" stroke="#111" stroke-width="1.5" fill="none" stroke-linecap="round" stroke-linejoin="round"/>
<path d="M1013.0,285.0 L1040.5,286.4" stroke="#111" stroke-width="1.5" fill="none" stroke-linecap="round" stroke-linejoin="round"/>
<path d="M953.2,338.4 L985.6,338.4" stroke="#111" stroke-width="1.5" fill="none" stroke-linecap="round" stroke-linejoin="round"/>
<path d="M888.9,335.8 L888.9,352.9" stroke="#111" stroke-width="1.5" fill="none" stroke-linecap="round" stroke-linejoin="round"/>
<path d="M623.2,317.0 L623.2,337.3" stroke="#111" stroke-width="1.5" fill="none" stroke-linecap="round" stroke-linejoin="round"/>
<path d="M698.7,308.0 L698.7,322.0" stroke="#111" stroke-width="1.5" fill="none" stroke-linecap="round" stroke-linejoin="round"/>
<path d="M945.6,262.0 L945.6,284.5" stroke="#111" stroke-width="1.5" fill="none" stroke-linecap="round" stroke-linejoin="round"/>
<path d="M945.9,294.0 L945.9,322.8" stroke="#111" stroke-width="1.5" fill="none" stroke-linecap="round" stroke-linejoin="round"/>
<text x="189.9" y="15.2" font-size="20.0" stroke="#111" stroke-width="0.6">7</text>
<path d="M89.3,74.7 L93.1,71.4 L93.1,85.4" stroke="#111" stroke-width="2.1" fill="none" stroke-linejoin="miter"/>
<text x="98.5" y="85.4" font-size="20.0" stroke="#111" stroke-width="0.6">5</text>
<text x="682.6" y="84.4" font-size="20.0" stroke="#111" stroke-width="0.6">9</text>
<text x="896.9" y="31.2" font-size="20.0" stroke="#111" stroke-width="0.6">4</text>
<text x="1003.9" y="28.6" font-size="20.0" stroke="#111" stroke-width="0.6">6</text>
<path d="M866.5,55.7 L870.3,52.4 L870.3,66.4" stroke="#111" stroke-width="2.1" fill="none" stroke-linejoin="miter"/>
<text x="875.7" y="66.4" font-size="20.0" stroke="#111" stroke-width="0.6">0</text>
<text x="1001.7" y="75.1" font-size="20.0" stroke="#111" stroke-width="0.6">3</text>
<path d="M1032.8,99.0 L1036.6,95.7 L1036.6,109.7" stroke="#111" stroke-width="2.1" fill="none" stroke-linejoin="miter"/>
<path d="M1043.9,99.0 L1047.7,95.7 L1047.7,109.7" stroke="#111" stroke-width="2.1" fill="none" stroke-linejoin="miter"/>
<path d="M747.8,182.0 L751.6,178.7 L751.6,192.7" stroke="#111" stroke-width="2.1" fill="none" stroke-linejoin="miter"/>
<text x="757.0" y="192.7" font-size="20.0" stroke="#111" stroke-width="0.6">3</text>
<path d="M778.5,268.9 L782.3,265.6 L782.3,279.6" stroke="#111" stroke-width="2.1" fill="none" stroke-linejoin="miter"/>
<text x="787.7" y="279.6" font-size="20.0" stroke="#111" stroke-width="0.6">4</text>
<text x="1005.4" y="243.4" font-size="20.0" stroke="#111" stroke-width="0.6">2</text>
<text x="1041.7" y="294.1" font-size="20.0" stroke="#111" stroke-width="0.6">5</text>
<path d="M987.3,336.7 L991.1,333.4 L991.1,347.4" stroke="#111" stroke-width="2.1" fill="none" stroke-linejoin="miter"/>
<text x="996.5" y="347.4" font-size="20.0" stroke="#111" stroke-width="0.6">2</text>
<path d="M880.4,362.7 L884.2,359.4 L884.2,373.4" stroke="#111" stroke-width="2.1" fill="none" stroke-linejoin="miter"/>
<text x="889.6" y="373.4" font-size="20.0" stroke="#111" stroke-width="0.6">5</text>
<path d="M618.5,343.4 L622.3,340.1 L622.3,354.1" stroke="#111" stroke-width="2.1" fill="none" stroke-linejoin="miter"/>
<text x="693.7" y="339.0" font-size="20.0" stroke="#111" stroke-width="0.6">8</text>
</svg>
</body></html>
